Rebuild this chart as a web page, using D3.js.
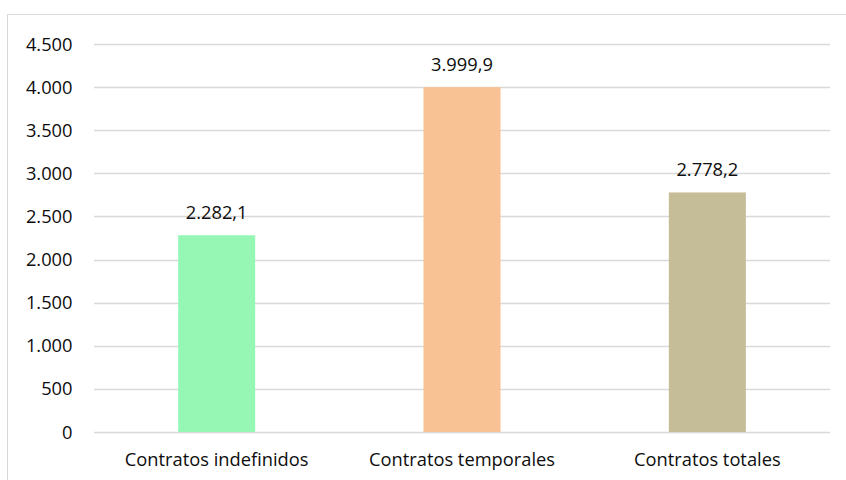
<!DOCTYPE html>
<html><head><meta charset="utf-8">
<script src="https://cdn.jsdelivr.net/npm/d3@7"></script>
<style>body{margin:0;background:#fff}svg{display:block}text{font-family:"Open Sans",sans-serif}</style>
</head><body><svg id="c" width="846" height="480"></svg>
<script>
const categories = ["Contratos indefinidos","Contratos temporales","Contratos totales"];
const values = [2282.1, 3999.9, 2778.2];
const valueLabels = ["2.282,1","3.999,9","2.778,2"];
const colors = ["#96F7B5","#F9C294","#C4BD97"];
const yTicks = [0,500,1000,1500,2000,2500,3000,3500,4000,4500];
const yTickLabels = ["0","500","1.000","1.500","2.000","2.500","3.000","3.500","4.000","4.500"];

(function(){
const svg = d3.select("#c");
svg.append("rect").attr("x",7.5).attr("y",14.5).attr("width",846).attr("height",480)
  .attr("fill","none").attr("stroke","#d9d9d9").attr("stroke-width",1);

const pl=94, pr=830, pt=44, pb=432;
const fs = 18.3;
const x = d3.scaleBand().domain(categories).range([pl,pr]).paddingInner(0.686).paddingOuter(0.343);
const y = d3.scaleLinear().domain([0,4500]).range([pb,pt]);

const g = svg.append("g");
g.selectAll("line.grid").data(yTicks).join("line").attr("class","grid")
  .attr("x1",pl).attr("x2",pr).attr("y1",d=>Math.round(y(d))+0.5).attr("y2",d=>Math.round(y(d))+0.5)
  .attr("stroke","#d9d9d9").attr("stroke-width",1.3);

g.selectAll("text.yt").data(yTicks).join("text").attr("class","yt")
  .attr("x",72.5).attr("y",d=>y(d)).attr("dy","0.36em").attr("text-anchor","end")
  .attr("font-size",fs).attr("fill","#0d0d0d").text((d,i)=>yTickLabels[i]);

g.selectAll("rect.bar").data(values).join("rect").attr("class","bar")
  .attr("x",(d,i)=>x(categories[i])).attr("width",x.bandwidth())
  .attr("y",d=>y(d)).attr("height",d=>pb-y(d)).attr("fill",(d,i)=>colors[i]);

g.selectAll("text.vl").data(values).join("text").attr("class","vl")
  .attr("x",(d,i)=>x(categories[i])+x.bandwidth()/2).attr("y",d=>y(d)-16)
  .attr("text-anchor","middle").attr("font-size",fs).attr("fill","#0d0d0d").text((d,i)=>valueLabels[i]);

g.selectAll("text.xl").data(categories).join("text").attr("class","xl")
  .attr("x",d=>x(d)+x.bandwidth()/2).attr("y",466)
  .attr("text-anchor","middle").attr("font-size",fs).attr("fill","#0d0d0d").text(d=>d);
})();
</script></body></html>
